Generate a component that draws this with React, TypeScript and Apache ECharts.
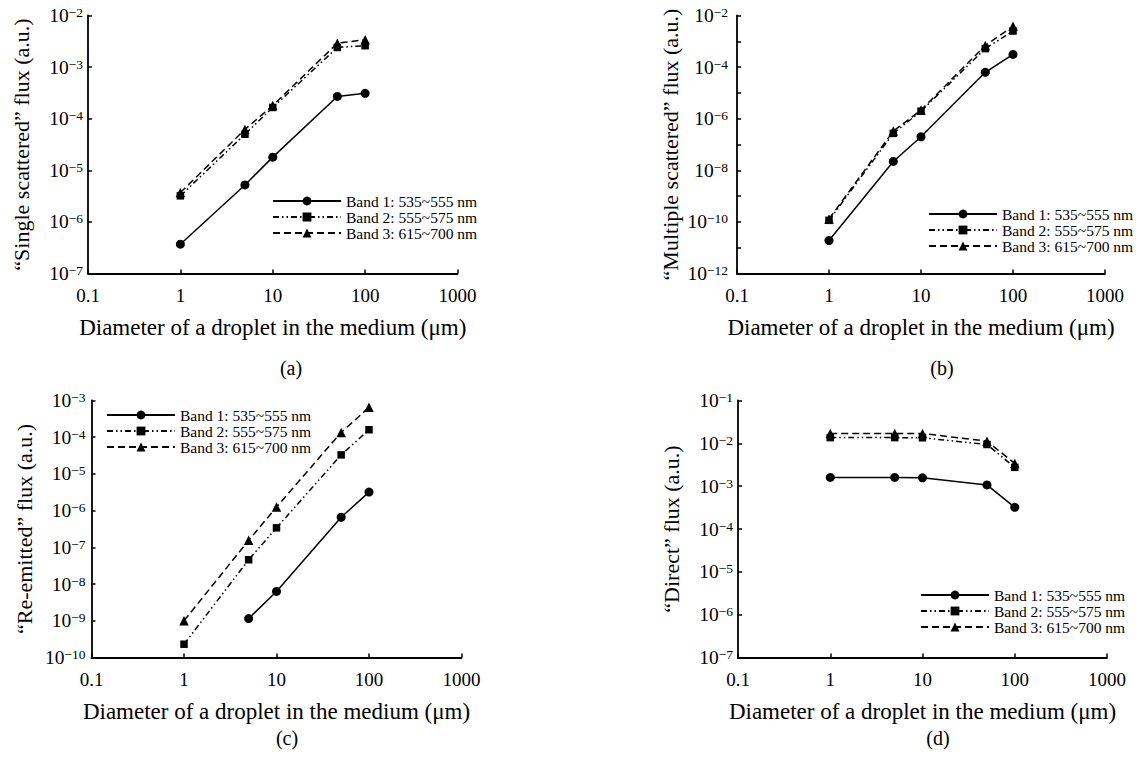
import React, { useEffect, useRef } from 'react';
import * as echarts from 'echarts';

const FONT = '"Liberation Serif", "Times New Roman", serif';

const diameters = [1, 5, 10, 50, 100];
const bandNames = ['Band 1: 535~555 nm', 'Band 2: 555~575 nm', 'Band 3: 615~700 nm'];

// (a) "Single scattered" flux
const singleB1 = [3.7e-7, 5.2e-6, 1.8e-5, 2.7e-4, 3.1e-4];
const singleB2 = [3.2e-6, 5.0e-5, 1.65e-4, 2.4e-3, 2.6e-3];
const singleB3 = [3.7e-6, 6.2e-5, 1.8e-4, 2.9e-3, 3.4e-3];

// (b) "Multiple scattered" flux
const multiB1 = [1.9e-11, 2.2e-8, 2.0e-7, 6.3e-5, 3.1e-4];
const multiB2 = [1.15e-10, 2.7e-7, 1.95e-6, 5.2e-4, 2.5e-3];
const multiB3 = [1.3e-10, 3.3e-7, 2.15e-6, 6.9e-4, 3.8e-3];

// (c) "Re-emitted" flux
const reemitB1 = [null, 1.15e-9, 6.3e-9, 6.6e-7, 3.2e-6];
const reemitB2 = [2.3e-10, 4.6e-8, 3.4e-7, 3.3e-5, 1.6e-4];
const reemitB3 = [1.0e-9, 1.55e-7, 1.25e-6, 1.35e-4, 6.5e-4];

// (d) "Direct" flux
const directB1 = [1.6e-3, 1.6e-3, 1.57e-3, 1.07e-3, 3.2e-4];
const directB2 = [1.36e-2, 1.36e-2, 1.35e-2, 9.4e-3, 2.75e-3];
const directB3 = [1.7e-2, 1.7e-2, 1.7e-2, 1.12e-2, 3.4e-3];

const xTickLabels = ['0.1', '1', '10', '100', '1000'];
const xName = 'Diameter of a droplet in the medium (μm)';

const panels = [
  {
    key: 'a', yName: '“Single scattered” flux (a.u.)', yMin: 1e-7, yMax: 1e-2, step: 1,
    data: [singleB1, singleB2, singleB3],
    grid: { left: 88, top: 15.5, width: 369.5, height: 258 },
    legend: { left: 272, top: 193 }, tag: { x: 291, y: 368 }, labelMargin: 5,
  },
  {
    key: 'b', yName: '“Multiple scattered” flux (a.u.)', yMin: 1e-12, yMax: 1e-2, step: 2,
    data: [multiB1, multiB2, multiB3],
    grid: { left: 737, top: 15.5, width: 368, height: 258 },
    legend: { left: 928, top: 206 }, tag: { x: 942, y: 368 }, labelMargin: 9,
  },
  {
    key: 'c', yName: '“Re-emitted” flux (a.u.)', yMin: 1e-10, yMax: 1e-3, step: 1,
    data: [reemitB1, reemitB2, reemitB3],
    grid: { left: 91.5, top: 400.5, width: 370, height: 257 },
    legend: { left: 106, top: 407 }, tag: { x: 287, y: 738 }, labelMargin: 6,
  },
  {
    key: 'd', yName: '“Direct” flux (a.u.)', yMin: 1e-7, yMax: 1e-1, step: 1,
    data: [directB1, directB2, directB3],
    grid: { left: 738, top: 400.5, width: 369, height: 257 },
    legend: { left: 920, top: 587 }, tag: { x: 938, y: 738 }, labelMargin: 5,
  },
];

const symbols = ['circle', 'rect', 'triangle'];
const symbolSizes = [9, 7.5, 9.5];
const dashTypes: any[] = ['solid', [6, 3, 1.5, 3, 1.5, 3], [7, 4]];

export default function App() {
  const ref = useRef<HTMLDivElement>(null);
  useEffect(() => {
    if (!ref.current) return;
    const chart = echarts.init(ref.current, undefined, { renderer: 'svg' });
    const axisLine = { show: true, lineStyle: { color: '#000', width: 1.8 } };
    const axisTick = { show: true, inside: true, length: 4, lineStyle: { color: '#000', width: 1.5 } };

    const option: any = {
      animation: false,
      backgroundColor: '#fff',
      grid: panels.map((p) => ({ ...p.grid, containLabel: false })),
      xAxis: panels.map((p, i) => ({
        type: 'log', logBase: 10, min: 0.1, max: 1000, gridIndex: i,
        name: xName, nameLocation: 'middle', nameGap: 42,
        nameTextStyle: { fontFamily: FONT, fontSize: 23, color: '#000' },
        axisLine, axisTick,
        axisLabel: {
          margin: 12, fontFamily: FONT, fontSize: 19, color: '#000',
          formatter: (v: number) => {
            const e = Math.round(Math.log10(v));
            return xTickLabels[e + 1] ?? String(v);
          },
        },
        splitLine: { show: false },
        minorTick: { show: false },
      })),
      yAxis: panels.map((p, i) => ({
        type: 'log', logBase: 10, min: p.yMin, max: p.yMax, interval: 1, gridIndex: i,
        name: p.yName, nameLocation: 'middle', nameGap: 56,
        nameTextStyle: { fontFamily: FONT, fontSize: 22, color: '#000' },
        axisLine, axisTick,
        axisLabel: {
          margin: p.labelMargin, color: '#000',
          formatter: (v: number) => {
            const e = Math.round(Math.log10(v));
            if (Math.abs(e) % p.step !== 0) return '';
            return `{b|10}{s|−${Math.abs(e)}}`;
          },
          rich: {
            b: { fontFamily: FONT, fontSize: 19.5, color: '#000' },
            s: { fontFamily: FONT, fontSize: 13.5, color: '#000', verticalAlign: 'top' },
          },
        },
        splitLine: { show: false },
        minorTick: { show: false },
      })),
      legend: panels.map((p) => ({
        data: bandNames, left: p.legend.left, top: p.legend.top, orient: 'vertical',
        itemWidth: 68, itemHeight: 11, itemGap: 0, padding: 0, selectedMode: false,
        textStyle: { fontFamily: FONT, fontSize: 15.5, color: '#000', lineHeight: 15.5 },
      })),
      series: panels.flatMap((p, i) =>
        p.data.map((vals, b) => ({
          type: 'line', name: bandNames[b], xAxisIndex: i, yAxisIndex: i,
          data: diameters
            .map((d, k) => (vals[k] == null ? null : [d, vals[k]]))
            .filter((x) => x !== null),
          symbol: symbols[b], symbolSize: symbolSizes[b],
          lineStyle: { color: '#000', width: 1.5, type: dashTypes[b] },
          itemStyle: { color: '#000' },
          z: 3 - b,
        }))
      ),
      graphic: panels.map((p) => ({
        type: 'text', x: p.tag.x, y: p.tag.y,
        style: {
          text: `(${p.key})`, fontFamily: FONT, fontSize: 20, fill: '#000',
          align: 'center', verticalAlign: 'middle',
        },
      })),
    };
    chart.setOption(option);
    return () => chart.dispose();
  }, []);
  return (
    <div
      ref={ref}
      style={{ position: 'absolute', left: 0, top: 0, width: 1138, height: 762, background: '#fff' }}
    />
  );
}
